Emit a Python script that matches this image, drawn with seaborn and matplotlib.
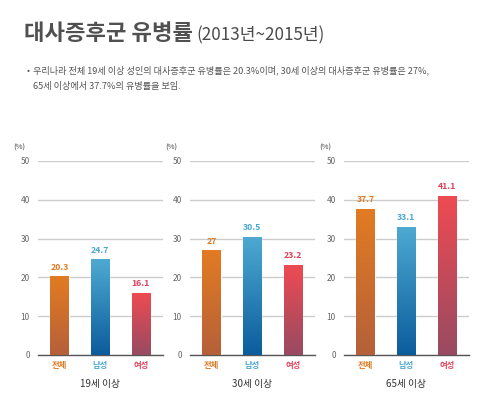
import numpy as np
import pandas as pd
import matplotlib.pyplot as plt
import matplotlib.colors as mcolors
import seaborn as sns

# Data
groups = ['19세 이상', '30세 이상', '65세 이상']
categories = ['전체', '남성', '여성']
values_19 = [20.3, 24.7, 16.1]
values_30 = [27, 30.5, 23.2]
values_65 = [37.7, 33.1, 41.1]
group_values = [values_19, values_30, values_65]

# Style
top_colors = ['#e27b22', '#4eaad2', '#ef4a52']
bottom_colors = ['#b5603a', '#0b5c9c', '#984b62']
label_colors = ['#e07a22', '#4aa8d0', '#e0405a']

sns.set_theme(style='white')
plt.rcParams['font.family'] = ['Noto Sans CJK KR', 'DejaVu Sans']

rows = []
for g, vals in zip(groups, group_values):
    for c, v in zip(categories, vals):
        rows.append({'group': g, 'category': c, 'value': v})
df = pd.DataFrame(rows)

fig = plt.figure(figsize=(5, 4), dpi=100)
fig.patch.set_facecolor('white')

# Title and note
fig.text(0.048, 0.915, '대사증후군 유병률', fontsize=16, color='#505050',
         fontweight='bold', va='center', ha='left')
fig.text(0.392, 0.912, '(2013년~2015년)', fontsize=12.3, color='#4a4a4a',
         va='center', ha='left')
fig.text(0.054, 0.823, '•', fontsize=6.5, color='#555555', va='center')
fig.text(0.066, 0.823, '우리나라 전체 19세 이상 성인의 대사증후군 유병률은 20.3%이며, 30세 이상의 대사증후군 유병률은 27%,',
         fontsize=6.6, color='#555555', va='center')
fig.text(0.066, 0.785, '65세 이상에서 37.7%의 유병률을 보임.',
         fontsize=6.6, color='#555555', va='center')

lefts = [0.076, 0.380, 0.688]
for i, g in enumerate(groups):
    ax = fig.add_axes([lefts[i], 0.1125, 0.25, 0.485])
    sub = df[df['group'] == g]
    sns.barplot(data=sub, x='category', y='value', hue='category',
                palette=top_colors, order=categories, hue_order=categories,
                width=0.45, legend=False, ax=ax, zorder=3)

    # vertical gradient fill on each bar
    for j, patch in enumerate(ax.patches):
        x0, y0 = patch.get_x(), patch.get_y()
        w, h = patch.get_width(), patch.get_height()
        cmap = mcolors.LinearSegmentedColormap.from_list(
            'g', [bottom_colors[j], top_colors[j]])
        grad = np.linspace(0, 1, 256).reshape(-1, 1)
        im = ax.imshow(grad, extent=[x0, x0 + w, y0, y0 + h], origin='lower',
                       aspect='auto', cmap=cmap, zorder=4)
        im.set_clip_path(patch)
        ax.text(x0 + w / 2, h + 1.2, f'{h:g}', ha='center', va='bottom',
                fontsize=6.3, fontweight='bold', color=label_colors[j], zorder=5)
    ax.set_xlim(-0.53, 2.55)
    ax.set_ylim(0, 50)

    ax.set_yticks([0, 10, 20, 30, 40, 50])
    ax.yaxis.grid(True, color='#cccccc', linewidth=1)
    ax.set_axisbelow(True)
    for s in ['top', 'right', 'left']:
        ax.spines[s].set_visible(False)
    ax.spines['bottom'].set_color('#555555')
    ax.spines['bottom'].set_linewidth(1)
    ax.tick_params(axis='y', length=0, pad=6, labelsize=6, labelcolor='#666666')
    ax.tick_params(axis='x', length=0, pad=4, labelsize=6)
    for lbl, col in zip(ax.get_xticklabels(), label_colors):
        lbl.set_color(col)
        lbl.set_fontweight('bold')
    # small separators between categories
    ax.set_xticks([0.5, 1.5], minor=True)
    ax.tick_params(axis='x', which='minor', length=2, width=1.2,
                   color='#555555', direction='inout')
    ax.set_ylabel('')
    ax.set_xlabel(g, fontsize=7, color='#333333', labelpad=7)
    ax.text(-0.2, 1.07, '(%)', transform=ax.transAxes, fontsize=5.5,
            color='#444444', ha='left', va='center')

fig.savefig('out.png', dpi=100, facecolor='white')
